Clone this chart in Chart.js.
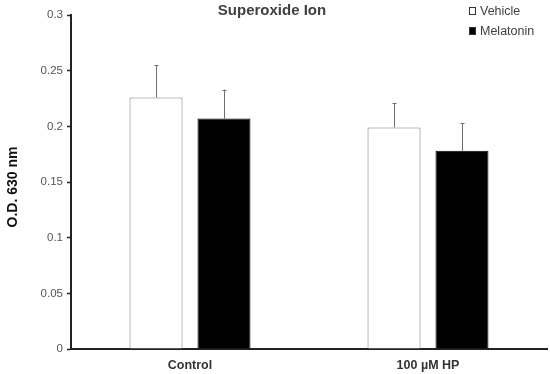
<!DOCTYPE html>
<html>
<head>
<meta charset="utf-8">
<script src="https://cdn.jsdelivr.net/npm/chart.js@4/dist/chart.umd.min.js"></script>
<style>
html,body{margin:0;padding:0;background:#fff;}
#wrap{width:550px;height:374px;position:relative;}
</style>
</head>
<body>
<div id="wrap"><canvas id="c" width="550" height="374"></canvas></div>
<script>
const categories = ['Control', '100 \u00B5M HP'];
const vehicle = [0.226, 0.199];
const vehicleErr = [0.029, 0.022];
const melatonin = [0.207, 0.178];
const melatoninErr = [0.026, 0.025];
const yTickLabels = ['0', '0.05', '0.1', '0.15', '0.2', '0.25', '0.3'];
const chartTitle = 'Superoxide Ion';
const yAxisTitle = 'O.D. 630 nm';

const FONT = "'Liberation Sans', Arial, sans-serif";
const errs = [vehicleErr, melatoninErr];

const errorBarPlugin = {
  id: 'errorBars',
  afterDatasetsDraw(chart) {
    const ctx = chart.ctx;
    const y = chart.scales.y;
    ctx.save();
    ctx.strokeStyle = '#6e6e6e';
    ctx.lineWidth = 1;
    chart.data.datasets.forEach((ds, i) => {
      const meta = chart.getDatasetMeta(i);
      meta.data.forEach((bar, j) => {
        const v = ds.data[j];
        const e = errs[i][j];
        const x = Math.round(bar.x) + 0.5;
        const y0 = y.getPixelForValue(v);
        const y1 = y.getPixelForValue(v + e);
        ctx.beginPath();
        ctx.moveTo(x, y0);
        ctx.lineTo(x, y1);
        ctx.moveTo(x - 2, Math.round(y1) + 0.5);
        ctx.lineTo(x + 2, Math.round(y1) + 0.5);
        ctx.stroke();
      });
    });
    ctx.restore();
  }
};

const titleLegendPlugin = {
  id: 'titleLegend',
  afterDraw(chart) {
    const ctx = chart.ctx;
    ctx.save();
    ctx.fillStyle = '#404040';
    ctx.font = 'bold 15px ' + FONT;
    ctx.textAlign = 'center';
    ctx.textBaseline = 'middle';
    ctx.fillText(chartTitle, 272, 11);
    // y axis title
    ctx.save();
    ctx.translate(13, 187);
    ctx.rotate(-Math.PI / 2);
    ctx.fillStyle = '#111';
    ctx.font = 'bold 14px ' + FONT;
    ctx.fillText(yAxisTitle, 0, 0);
    ctx.restore();
    // legend
    ctx.font = '12.5px ' + FONT;
    ctx.textAlign = 'left';
    chart.data.datasets.forEach((ds, i) => {
      const cy = 11 + i * 20;
      ctx.fillStyle = ds.backgroundColor;
      ctx.fillRect(469, cy - 3.5, 7, 7);
      ctx.strokeStyle = '#333';
      ctx.lineWidth = 1;
      ctx.strokeRect(469.5, cy - 3.5, 6, 7);
      ctx.fillStyle = '#404040';
      ctx.fillText(ds.label, 480, cy + 0.5);
    });
    ctx.restore();
  }
};

new Chart(document.getElementById('c'), {
  type: 'bar',
  data: {
    labels: categories,
    datasets: [
      { label: 'Vehicle', data: vehicle, backgroundColor: '#ffffff', borderColor: '#7a7a7a', borderWidth: 1,
        categoryPercentage: 0.571, barPercentage: 0.78 },
      { label: 'Melatonin', data: melatonin, backgroundColor: '#000000', borderColor: '#000000', borderWidth: 1,
        categoryPercentage: 0.571, barPercentage: 0.78 }
    ]
  },
  options: {
    responsive: false,
    animation: false,
    devicePixelRatio: 1,
    layout: { padding: { top: 15, right: 3, bottom: 0, left: 0 } },
    plugins: { legend: { display: false }, title: { display: false }, tooltip: { enabled: false } },
    scales: {
      x: {
        grid: { display: false, drawTicks: false },
        border: { display: true, color: '#222', width: 2 },
        ticks: { color: '#333', font: { family: FONT, size: 12.5, weight: 'bold' }, padding: 9 },
        afterFit(s) { s.height = 25; }
      },
      y: {
        min: 0, max: 0.3,
        ticks: {
          stepSize: 0.05, color: '#555', padding: 4,
          font: { family: FONT, size: 11.5 },
          callback: (v, i) => yTickLabels[i]
        },
        grid: { display: true, drawOnChartArea: false, drawTicks: true, tickLength: 4, color: '#222', tickWidth: 1.5 },
        border: { display: true, color: '#222', width: 2 },
        title: { display: false },
        afterFit(s) { s.width = 71; }
      }
    }
  },
  plugins: [errorBarPlugin, titleLegendPlugin]
});
</script>
</body>
</html>
